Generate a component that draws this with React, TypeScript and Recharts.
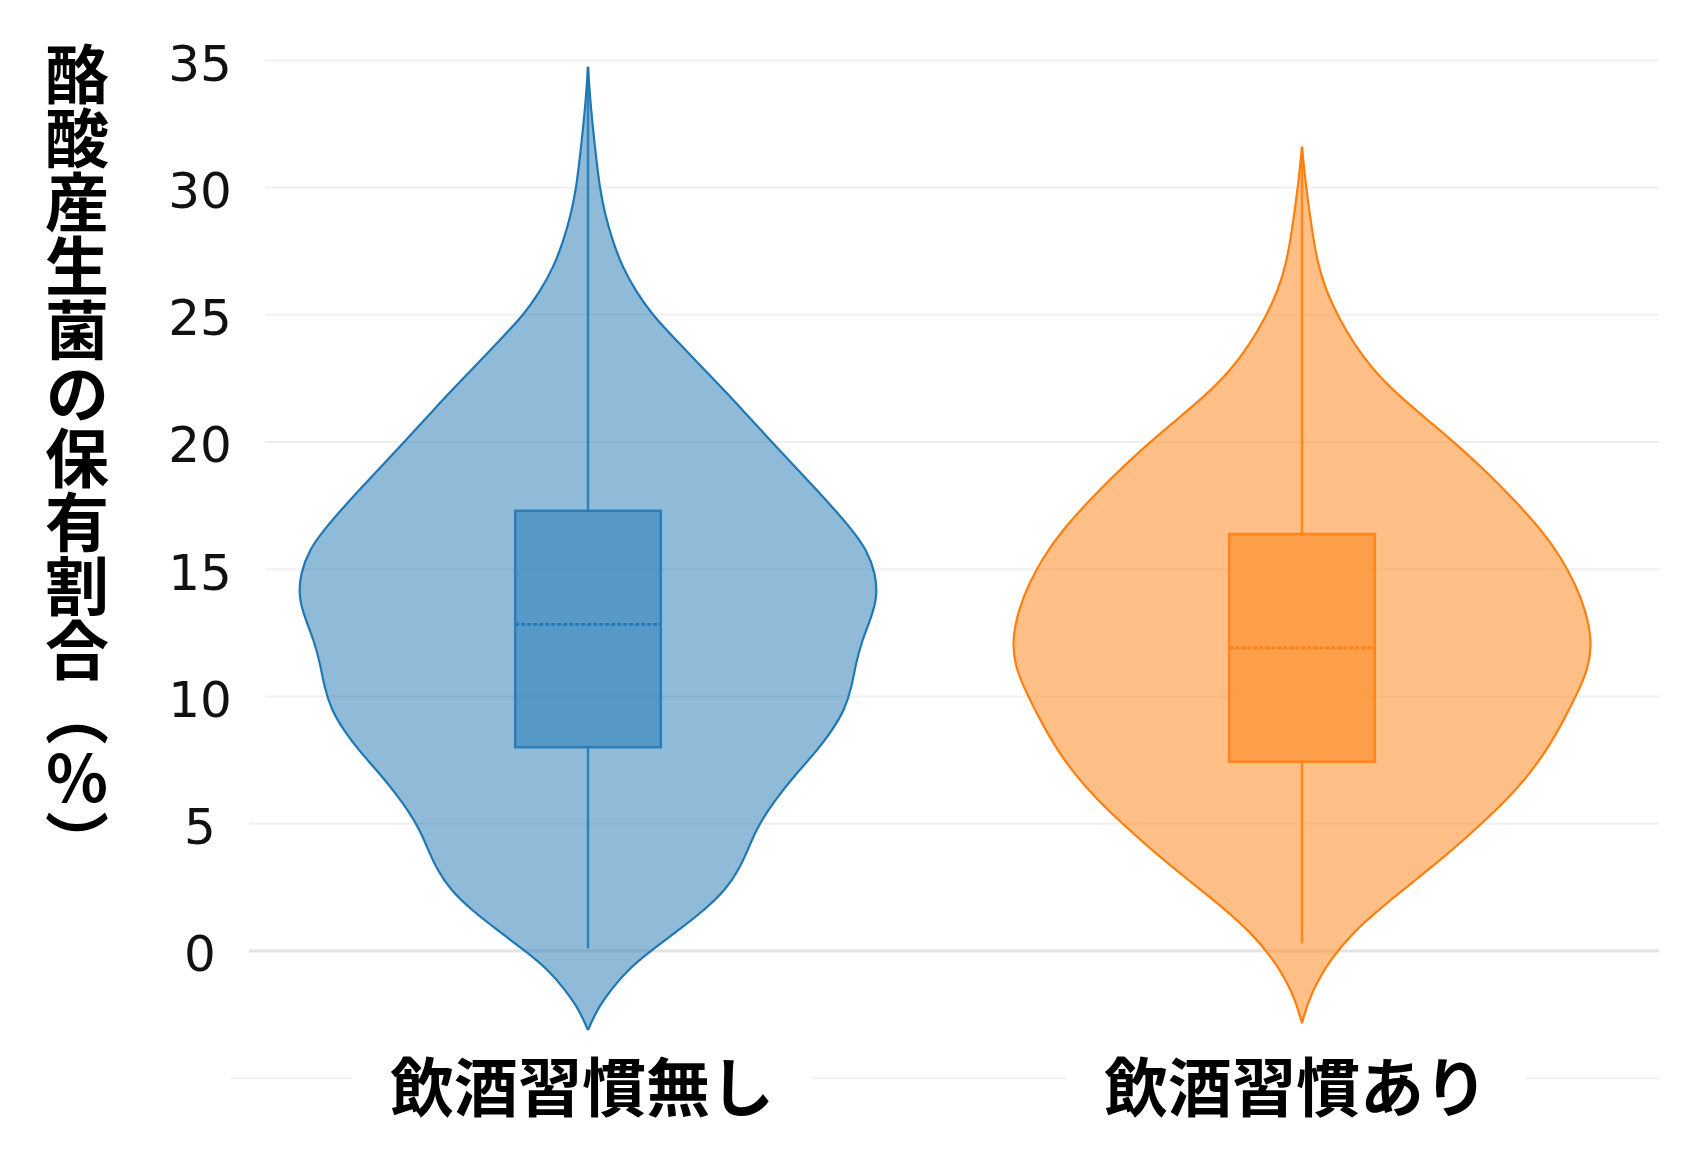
import React from 'react';
import {
  ComposedChart,
  Area,
  XAxis,
  YAxis,
  CartesianGrid,
  ReferenceArea,
  ReferenceLine,
} from 'recharts';

// ---- categories & ticks ----
const categories = ['飲酒習慣無し', '飲酒習慣あり'];
const yTicks = [-5, 0, 5, 10, 15, 20, 25, 30, 35];
const yTitle = '酪酸産生菌の保有割合（％）';

// ---- violin profiles: value and relative density (max = 1) ----
const noDrinkValues = [
  34.74, 33.17, 31.07, 30.03, 28.98, 27.93, 26.88, 25.83, 25.0, 24.0, 22.69, 21.38, 20.0,
  18.76, 17.45, 16.53, 15.75, 14.83, 13.92, 13.13, 12.22, 11.3, 10.38, 9.47, 8.68, 7.89,
  7.11, 6.32, 5.53, 4.75, 3.96, 3.18, 2.39, 1.61, 0.82, 0, -0.75, -1.54, -2.19, -2.72, -3.11,
];
const noDrinkDensity = [
  0, 0.009, 0.029, 0.04, 0.058, 0.084, 0.118, 0.17, 0.222, 0.304, 0.414, 0.524, 0.633,
  0.736, 0.843, 0.912, 0.962, 0.992, 0.998, 0.978, 0.946, 0.924, 0.91, 0.885, 0.843, 0.791,
  0.73, 0.672, 0.621, 0.58, 0.551, 0.52, 0.474, 0.402, 0.313, 0.216, 0.136, 0.078, 0.038, 0.015, 0,
];

const drinkValues = [
  31.6, 30.29, 28.33, 27.02, 25.97, 24.92, 23.87, 22.83, 21.78, 20.73, 19.68, 18.63, 17.59,
  16.54, 15.49, 14.44, 13.4, 12.22, 11.17, 10.12, 9.07, 8.02, 6.98, 5.93, 4.88, 3.83, 2.79,
  1.74, 0.69, -0.36, -1.14, -1.93, -2.84,
];
const drinkDensity = [
  0, 0.011, 0.034, 0.054, 0.082, 0.125, 0.178, 0.245, 0.337, 0.448, 0.556, 0.654, 0.743,
  0.826, 0.892, 0.942, 0.978, 1.0, 0.99, 0.95, 0.903, 0.851, 0.787, 0.706, 0.608, 0.505,
  0.392, 0.277, 0.172, 0.098, 0.056, 0.023, 0,
];

// ---- box stats: [whisker low, Q1, median, Q3, whisker high] ----
const noDrinkBox = [0.1, 8.0, 12.83, 17.3, 34.74];
const drinkBox = [0.3, 7.43, 11.91, 16.38, 31.6];

// ---- style constants ----
const VIOLIN_HALF = 0.406; // x-axis units
const BOX_HALF = 0.102;
const BLUE = '#1f77b4';
const ORANGE = '#ff7f0e';

const makeViolin = (values: number[], density: number[], pos: number) =>
  values.map((v, i) => ({
    v,
    range: [pos - density[i] * VIOLIN_HALF, pos + density[i] * VIOLIN_HALF],
  }));

const noDrinkData = makeViolin(noDrinkValues, noDrinkDensity, 0);
const drinkData = makeViolin(drinkValues, drinkDensity, 1);

const XTick = (props: any) => {
  const { x, y, payload } = props;
  const label = categories[payload.value];
  if (!label) return <g />;
  const fs = 64;
  const w = label.length * fs;
  const cx = x - 6;
  return (
    <g>
      <rect x={cx - w / 2 - 38} y={y - 40} width={w + 76} height={80} fill="#ffffff" />
      <text
        x={cx}
        y={y - 3}
        textAnchor="middle"
        dominantBaseline="central"
        fontSize={fs}
        fontWeight={700}
        fontFamily="'Noto Sans CJK JP', sans-serif"
        fill="#000000"
      >
        {label}
      </text>
    </g>
  );
};

const YTick = (props: any) => {
  const { x, y, payload } = props;
  if (payload.value === -5) return <g />;
  const s = String(payload.value);
  const fs = 50;
  const w = s.length * 0.636 * fs;
  return (
    <g>
      <rect x={x - w / 2 - 33} y={y - 26} width={w + 66} height={52} fill="#ffffff" />
      <text
        x={x}
        y={y}
        dy="0.41em"
        textAnchor="middle"
        fontSize={fs}
        fontFamily="'DejaVu Sans', sans-serif"
        fill="#111111"
      >
        {s}
      </text>
    </g>
  );
};

const TitleLabel = (props: any) => {
  const vb = props.viewBox || { x: 0, y: 52 };
  return (
    <text
      x={vb.x + 69}
      y={vb.y - 19}
      style={{ writingMode: 'vertical-rl', textOrientation: 'upright' } as any}
      fontSize={64}
      fontWeight={700}
      fontFamily="'Noto Sans CJK JP', sans-serif"
      fill="#000000"
    >
      {yTitle}
    </text>
  );
};

const boxParts = (box: number[], pos: number, color: string, key: string) => [
  <ReferenceArea
    key={key + '-box'}
    x1={pos - BOX_HALF}
    x2={pos + BOX_HALF}
    y1={box[1]}
    y2={box[3]}
    fill={color}
    fillOpacity={0.5}
    stroke={color}
    strokeWidth={2.5}
    strokeOpacity={0.85}
    ifOverflow="visible"
  />,
  <ReferenceLine
    key={key + '-wlo'}
    segment={[
      { x: pos, y: box[0] },
      { x: pos, y: box[1] },
    ]}
    stroke={color}
    strokeWidth={2.5}
    strokeOpacity={0.85}
    ifOverflow="visible"
  />,
  <ReferenceLine
    key={key + '-whi'}
    segment={[
      { x: pos, y: box[3] },
      { x: pos, y: box[4] },
    ]}
    stroke={color}
    strokeWidth={2.5}
    strokeOpacity={0.85}
    ifOverflow="visible"
  />,
  <ReferenceLine
    key={key + '-med'}
    segment={[
      { x: pos - BOX_HALF, y: box[2] },
      { x: pos + BOX_HALF, y: box[2] },
    ]}
    stroke={color}
    strokeWidth={2.8}
    strokeDasharray="4 2"
    ifOverflow="visible"
  />,
];

export default function App() {
  return (
    <div style={{ width: 1670, height: 1157, background: '#ffffff' }}>
      <ComposedChart
        width={1670}
        height={1157}
        layout="vertical"
        margin={{ top: 52.2, right: 19, bottom: 6.8, left: 0 }}
      >
        <CartesianGrid
          vertical={false}
          horizontalValues={yTicks.filter((t) => t !== 0)}
          stroke="#f0f0f0"
          strokeWidth={2}
        />
        <CartesianGrid vertical={false} horizontalValues={[0]} stroke="#e3e3e3" strokeWidth={3} />
        <XAxis
          type="number"
          domain={[-0.5, 1.5]}
          ticks={[0, 1]}
          interval={0}
          allowDataOverflow
          axisLine={false}
          tickLine={false}
          tickSize={0}
          tickMargin={7.3}
          height={80}
          tick={XTick}
        />
        <YAxis
          type="number"
          dataKey="v"
          domain={[-5, 35]}
          ticks={yTicks}
          interval={0}
          reversed
          allowDataOverflow
          axisLine={false}
          tickLine={false}
          tickSize={0}
          tickMargin={31}
          width={223}
          tick={YTick}
          label={{ content: TitleLabel }}
        />
        <Area
          data={noDrinkData}
          dataKey="range"
          type="basis"
          fill={BLUE}
          fillOpacity={0.5}
          stroke={BLUE}
          strokeWidth={2.2}
          dot={false}
          activeDot={false}
          isAnimationActive={false}
        />
        <Area
          data={drinkData}
          dataKey="range"
          type="basis"
          fill={ORANGE}
          fillOpacity={0.5}
          stroke={ORANGE}
          strokeWidth={2.2}
          dot={false}
          activeDot={false}
          isAnimationActive={false}
        />
        {boxParts(noDrinkBox, 0, BLUE, 'nd')}
        {boxParts(drinkBox, 1, ORANGE, 'd')}
      </ComposedChart>
    </div>
  );
}
